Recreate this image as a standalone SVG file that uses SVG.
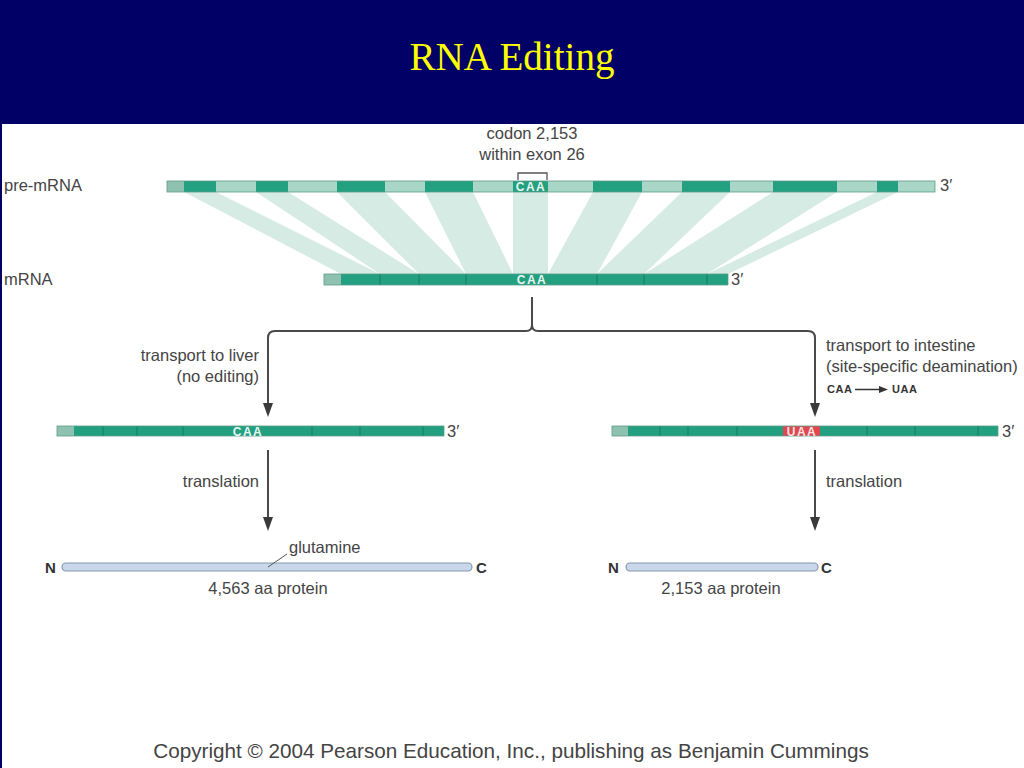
<svg xmlns="http://www.w3.org/2000/svg" width="1024" height="768" viewBox="0 0 1024 768">
<defs>
<style>
.lbl{font-family:"Liberation Sans",Arial,sans-serif;font-size:16.5px;fill:#444}
.cod{font-family:"Liberation Sans",Arial,sans-serif;font-size:12px;font-weight:bold;fill:#eaf6f1;letter-spacing:1.5px;text-anchor:middle}
.nc{font-family:"Liberation Sans",Arial,sans-serif;font-size:15px;font-weight:bold;fill:#333}
.dk{fill:#22a07f}
.lt{fill:#a9d6c7}
.utr{fill:#8fc1b0}
.outl{fill:none;stroke:#5c9c89;stroke-width:0.8}
.div{stroke:#177a60;stroke-width:1}
.fan{fill:#d6ebe4}
.conn{fill:none;stroke:#4a4a4a;stroke-width:2}
.prot{fill:#c8d8ea;stroke:#8797ad;stroke-width:1.2}
</style>
<marker id="arr" markerUnits="userSpaceOnUse" markerWidth="14" markerHeight="10" viewBox="0 0 14 10" refX="7" refY="5" orient="auto">
<path d="M0,0 L14,5 L0,10 Z" fill="#3a3a3a"/>
</marker>
<marker id="arrs" markerUnits="userSpaceOnUse" markerWidth="9" markerHeight="7" viewBox="0 0 9 7" refX="5" refY="3.5" orient="auto">
<path d="M0,0 L9,3.5 L0,7 Z" fill="#333"/>
</marker>
</defs>

<rect width="1024" height="768" fill="#000066"/>
<rect x="2" y="124" width="1022" height="644" fill="#ffffff"/>

<g id="title">
<text x="512" y="70" text-anchor="middle" font-family="Liberation Serif,'Times New Roman',serif" font-size="39" fill="#ffff00">RNA Editing</text>
</g>

<g id="fans">
<polygon class="fan" points="184,192 216,192 380,274 341,274"/>
<polygon class="fan" points="256,192 288,192 419,274 380,274"/>
<polygon class="fan" points="337,192 385,192 466,274 419,274"/>
<polygon class="fan" points="425,192 473,192 513,274 466,274"/>
<polygon class="fan" points="513,192 548,192 548,274 513,274"/>
<polygon class="fan" points="593,192 642,192 597,274 548,274"/>
<polygon class="fan" points="682,192 730,192 644,274 597,274"/>
<polygon class="fan" points="773,192 837,192 707,274 644,274"/>
<polygon class="fan" points="877,192 898,192 728,274 707,274"/>
</g>

<g id="pre-mRNA">
<text class="lbl" x="4" y="191">pre-mRNA</text>
<rect class="utr" x="167" y="181" width="17" height="11"/>
<rect class="dk" x="184" y="181" width="32" height="11"/>
<rect class="lt" x="216" y="181" width="40" height="11"/>
<rect class="dk" x="256" y="181" width="32" height="11"/>
<rect class="lt" x="288" y="181" width="49" height="11"/>
<rect class="dk" x="337" y="181" width="48" height="11"/>
<rect class="lt" x="385" y="181" width="40" height="11"/>
<rect class="dk" x="425" y="181" width="48" height="11"/>
<rect class="lt" x="473" y="181" width="40" height="11"/>
<rect class="dk" x="513" y="181" width="35" height="11"/>
<rect class="lt" x="548" y="181" width="45" height="11"/>
<rect class="dk" x="593" y="181" width="49" height="11"/>
<rect class="lt" x="642" y="181" width="40" height="11"/>
<rect class="dk" x="682" y="181" width="48" height="11"/>
<rect class="lt" x="730" y="181" width="43" height="11"/>
<rect class="dk" x="773" y="181" width="64" height="11"/>
<rect class="lt" x="837" y="181" width="40" height="11"/>
<rect class="dk" x="877" y="181" width="21" height="11"/>
<rect class="lt" x="898" y="181" width="37" height="11"/>
<rect class="outl" x="167" y="181" width="768" height="11"/>
<text class="cod" x="531" y="191">CAA</text>
<text class="lbl" x="940" y="191">3′</text>
<path d="M518,180 V173 H547 V180" fill="none" stroke="#555" stroke-width="1.3"/>
<text class="lbl" x="532" y="139" text-anchor="middle">codon 2,153</text>
<text class="lbl" x="532" y="160" text-anchor="middle">within exon 26</text>
</g>

<g id="mRNA">
<text class="lbl" x="4" y="285">mRNA</text>
<rect class="utr" x="324" y="274" width="17" height="11"/>
<rect class="dk" x="341" y="274" width="387" height="11"/>
<line class="div" x1="380" y1="274" x2="380" y2="285"/>
<line class="div" x1="419" y1="274" x2="419" y2="285"/>
<line class="div" x1="466" y1="274" x2="466" y2="285"/>
<line class="div" x1="597" y1="274" x2="597" y2="285"/>
<line class="div" x1="644" y1="274" x2="644" y2="285"/>
<line class="div" x1="707" y1="274" x2="707" y2="285"/>
<rect class="outl" x="324" y="274" width="404" height="11"/>
<text class="cod" x="532" y="284">CAA</text>
<text class="lbl" x="731" y="285">3′</text>
</g>

<g id="connectors">
<path class="conn" d="M532,297 V325 Q532,331 526,331 H275 Q268,331 268,338 V410" marker-end="url(#arr)"/>
<path class="conn" d="M532,325 Q532,331 538,331 H808 Q815,331 815,338 V410" marker-end="url(#arr)"/>
<line class="conn" x1="268" y1="450" x2="268" y2="524" marker-end="url(#arr)"/>
<line class="conn" x1="815" y1="450" x2="815" y2="524" marker-end="url(#arr)"/>
</g>

<g id="liver-label">
<text class="lbl" x="259" y="361" text-anchor="end">transport to liver</text>
<text class="lbl" x="259" y="382" text-anchor="end">(no editing)</text>
</g>

<g id="intestine-label">
<text class="lbl" x="826" y="351">transport to intestine</text>
<text class="lbl" x="826" y="372">(site-specific deamination)</text>
<text x="827" y="393" font-family="Liberation Sans,Arial,sans-serif" font-size="11" font-weight="bold" fill="#333" letter-spacing="0.6">CAA</text>
<line x1="855" y1="389.5" x2="884" y2="389.5" stroke="#333" stroke-width="1.5" marker-end="url(#arrs)"/>
<text x="892" y="393" font-family="Liberation Sans,Arial,sans-serif" font-size="11" font-weight="bold" fill="#333" letter-spacing="0.6">UAA</text>
</g>

<g id="liver-mRNA">
<rect class="utr" x="57" y="426" width="17" height="10"/>
<rect class="dk" x="74" y="426" width="370" height="10"/>
<line class="div" x1="103" y1="426" x2="103" y2="436"/>
<line class="div" x1="137" y1="426" x2="137" y2="436"/>
<line class="div" x1="183" y1="426" x2="183" y2="436"/>
<line class="div" x1="312" y1="426" x2="312" y2="436"/>
<line class="div" x1="360" y1="426" x2="360" y2="436"/>
<line class="div" x1="423" y1="426" x2="423" y2="436"/>
<rect class="outl" x="57" y="426" width="387" height="10"/>
<text class="cod" x="248" y="435.5">CAA</text>
<text class="lbl" x="447" y="437">3′</text>
</g>

<g id="intestine-mRNA">
<rect class="utr" x="612" y="426" width="16" height="10"/>
<rect class="dk" x="628" y="426" width="370" height="10"/>
<line class="div" x1="660" y1="426" x2="660" y2="436"/>
<line class="div" x1="688" y1="426" x2="688" y2="436"/>
<line class="div" x1="737" y1="426" x2="737" y2="436"/>
<line class="div" x1="867" y1="426" x2="867" y2="436"/>
<line class="div" x1="915" y1="426" x2="915" y2="436"/>
<line class="div" x1="978" y1="426" x2="978" y2="436"/>
<rect x="783" y="426" width="37" height="10" fill="#e0474f"/>
<rect class="outl" x="612" y="426" width="386" height="10"/>
<text class="cod" x="802" y="435.5" style="fill:#fbe3e3">UAA</text>
<text class="lbl" x="1002" y="437">3′</text>
</g>

<g id="translation-labels">
<text class="lbl" x="259" y="487" text-anchor="end">translation</text>
<text class="lbl" x="826" y="487">translation</text>
</g>

<g id="protein-liver">
<text class="nc" x="45" y="573">N</text>
<rect class="prot" x="62" y="563" width="410" height="8" rx="4"/>
<text class="nc" x="476" y="573">C</text>
<line x1="268" y1="567" x2="287" y2="554" stroke="#555" stroke-width="1"/>
<text class="lbl" x="289" y="553">glutamine</text>
<text class="lbl" x="268" y="594" text-anchor="middle">4,563 aa protein</text>
</g>

<g id="protein-intestine">
<text class="nc" x="608" y="573">N</text>
<rect class="prot" x="626" y="563" width="192" height="8" rx="4"/>
<text class="nc" x="821" y="573">C</text>
<text class="lbl" x="721" y="594" text-anchor="middle">2,153 aa protein</text>
</g>

<g id="copyright">
<text x="511" y="758" text-anchor="middle" font-family="Liberation Sans,Arial,sans-serif" font-size="20.7" fill="#444">Copyright © 2004 Pearson Education, Inc., publishing as Benjamin Cummings</text>
</g>
</svg>
